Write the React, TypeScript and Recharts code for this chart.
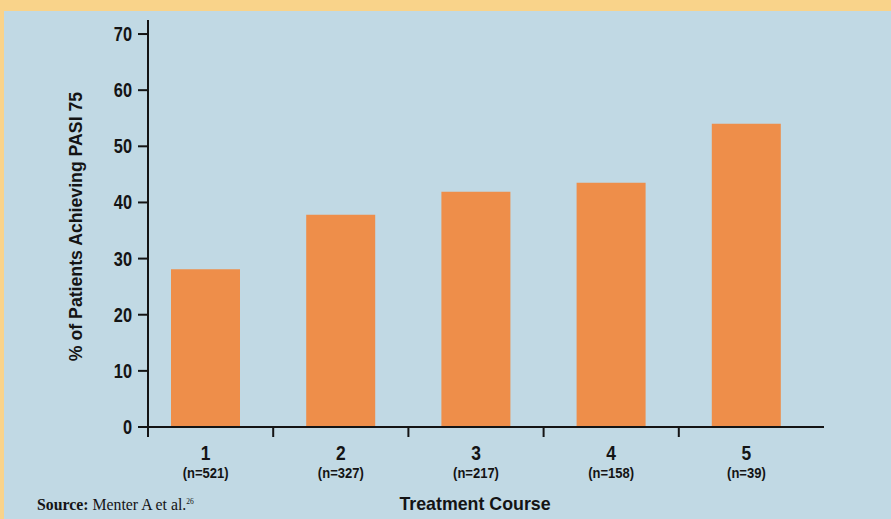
import React from "react";
import {
  BarChart,
  Bar,
  XAxis,
  YAxis,
  ReferenceLine,
  Label,
} from "recharts";

const courses = ["1", "2", "3", "4", "5"];
const patientCounts = ["n=521", "n=327", "n=217", "n=158", "n=39"];
const pasi75 = [28.1, 37.8, 41.9, 43.5, 54.0];
const yTicks = [0, 10, 20, 30, 40, 50, 60, 70];

const data = courses.map((c, i) => ({ course: c, pasi: pasi75[i] }));

const ink = "#141414";
const sans = "'Liberation Sans', Arial, sans-serif";

// the original face is a condensed heavy grotesque, so squeeze Arial a bit
const Squeezed = ({ x, y, size, sx, anchor, children }: any) => (
  <text
    transform={`translate(${x}, ${y}) scale(${sx}, 1)`}
    textAnchor={anchor}
    fontFamily={sans}
    fontWeight="bold"
    fontSize={size}
    fill={ink}
  >
    {children}
  </text>
);

const CourseTick = (props: any) => {
  const { x, y, payload, index } = props;
  const i = payload?.index ?? index;
  const half = payload?.offset || 67.6;
  return (
    <g>
      <Squeezed x={x} y={y + 23} size={20.5} sx={0.85} anchor="middle">
        {courses[i]}
      </Squeezed>
      <Squeezed x={x} y={y + 41} size={14} sx={0.93} anchor="middle">
        ({patientCounts[i]})
      </Squeezed>
      {i < courses.length - 1 && (
        <line
          x1={x + half}
          x2={x + half}
          y1={y - 10}
          y2={y}
          stroke={ink}
          strokeWidth={2}
        />
      )}
    </g>
  );
};

const ValueTick = (props: any) => {
  const { x, y, payload } = props;
  return (
    <Squeezed x={x} y={y + 7} size={19.5} sx={0.84} anchor="end">
      {payload.value}
    </Squeezed>
  );
};

const YTitle = ({ viewBox }: any) => {
  const cx = viewBox.x + 72;
  const cy = viewBox.y + viewBox.height / 2 - 2;
  return (
    <text
      x={cx}
      y={cy}
      transform={`rotate(-90, ${cx}, ${cy})`}
      textAnchor="middle"
      dominantBaseline="central"
      fontFamily={sans}
      fontWeight="bold"
      fontSize={17.7}
      fill={ink}
    >
      % of Patients Achieving PASI 75
    </text>
  );
};

const XTitle = ({ viewBox }: any) => (
  <text
    x={viewBox.x + viewBox.width / 2 - 11}
    y={viewBox.y + 73}
    textAnchor="middle"
    fontFamily={sans}
    fontWeight="bold"
    fontSize={17.8}
    fill={ink}
  >
    Treatment Course
  </text>
);

export default function App() {
  return (
    <div
      style={{
        position: "absolute",
        left: 0,
        top: 0,
        width: 891,
        height: 519,
        background: "#f9d38a",
        overflow: "hidden",
      }}
    >
      <div
        style={{
          position: "absolute",
          left: 4,
          top: 11,
          width: 887,
          height: 508,
          background: "#c1d9e4",
        }}
      >
        <BarChart
          width={887}
          height={508}
          data={data}
          margin={{ top: 9, right: 67, bottom: 0, left: 0 }}
        >
          <XAxis
            dataKey="course"
            height={82}
            axisLine={false}
            tickLine={false}
            tickSize={0}
            tickMargin={0}
            padding={{ left: -10, right: 10 }}
            tick={<CourseTick />}
            interval={0}
          >
            <Label content={<XTitle />} />
          </XAxis>
          <YAxis
            type="number"
            width={144}
            domain={[-1.78, 72.5]}
            ticks={yTicks}
            interval={0}
            axisLine={{ stroke: ink, strokeWidth: 2 }}
            tickLine={{ stroke: ink, strokeWidth: 2 }}
            tickSize={10}
            tickMargin={6}
            tick={<ValueTick />}
          >
            <Label content={<YTitle />} />
          </YAxis>
          <ReferenceLine y={0} stroke={ink} strokeWidth={2} />
          <Bar
            dataKey="pasi"
            fill="#ee8e4a"
            barSize={69}
            isAnimationActive={false}
          />
        </BarChart>
      </div>
      <svg
        width={300}
        height={30}
        style={{ position: "absolute", left: 0, top: 489 }}
      >
        <text
          x={37}
          y={21}
          fontFamily="'Liberation Serif', 'DejaVu Serif', serif"
          fontSize={15.8}
          fill={ink}
        >
          <tspan fontWeight="bold">Source:</tspan>
          <tspan> Menter A et al.</tspan>
          <tspan fontSize={7.5} dy={-6}>
            26
          </tspan>
        </text>
      </svg>
    </div>
  );
}
